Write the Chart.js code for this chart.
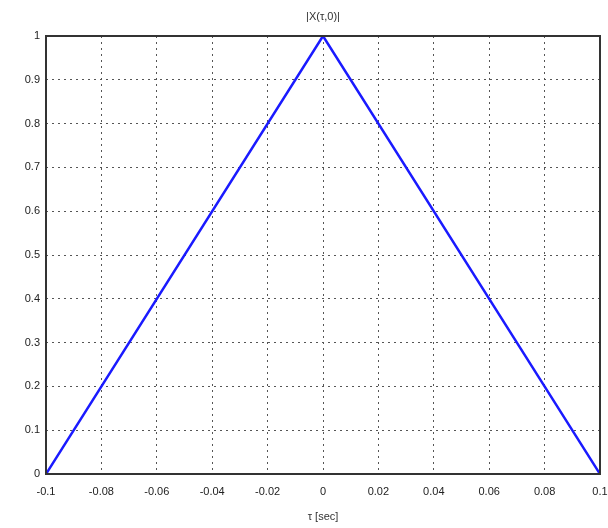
<!DOCTYPE html>
<html>
<head>
<meta charset="utf-8">
<script src="https://cdn.jsdelivr.net/npm/chart.js@4"></script>
<style>
  html, body { margin: 0; padding: 0; background: #fff; }
  #wrap { width: 608px; height: 528px; }
</style>
</head>
<body>
<div id="wrap"><canvas id="grafico" width="608" height="528"></canvas></div>
<script>
const tau = [-0.1, 0, 0.1];
const amb = [0, 1, 0];
const xTicks = [-0.1, -0.08, -0.06, -0.04, -0.02, 0, 0.02, 0.04, 0.06, 0.08, 0.1];
const yTicks = [0, 0.1, 0.2, 0.3, 0.4, 0.5, 0.6, 0.7, 0.8, 0.9, 1];
const titulo = "|X(\u03c4,0)|";

Chart.defaults.font.family = "'Liberation Sans', Arial, sans-serif";
Chart.defaults.font.size = 11;
Chart.defaults.color = "#222";

// moldura da área do gráfico + título centrado nos eixos (estilo matlab)
const moldura = {
  id: "moldura",
  afterDatasetsDraw(chart) {
    const { ctx, chartArea: a } = chart;
    ctx.save();
    ctx.strokeStyle = "#333";
    ctx.lineWidth = 2;
    ctx.strokeRect(a.left, a.top, a.right - a.left, a.bottom - a.top);
    ctx.fillStyle = "#333";
    ctx.font = "11px 'Liberation Sans', Arial, sans-serif";
    ctx.textAlign = "center";
    ctx.textBaseline = "middle";
    ctx.fillText(titulo, (a.left + a.right) / 2, a.top - 19);
    ctx.restore();
  }
};

const fmt = v => String(parseFloat(v.toFixed(2)));

new Chart(document.getElementById("grafico"), {
  type: "line",
  data: {
    datasets: [{
      data: tau.map((t, i) => ({ x: t, y: amb[i] })),
      borderColor: "#1a1aff",
      borderWidth: 2.5,
      pointRadius: 0,
      tension: 0
    }]
  },
  options: {
    responsive: false,
    animation: false,
    layout: { padding: { left: 0, right: 8, top: 36, bottom: 0 } },
    plugins: {
      legend: { display: false },
      tooltip: { enabled: false },
      title: { display: false }
    },
    scales: {
      x: {
        type: "linear",
        min: -0.1,
        max: 0.1,
        afterBuildTicks: s => { s.ticks = xTicks.map(v => ({ value: v })); },
        afterFit: s => { s.height = 54; s.paddingLeft = 0; s.paddingRight = 0; s.paddingTop = 0; },
        ticks: { callback: fmt, padding: 11, maxRotation: 0, autoSkip: false },
        grid: { color: "#555", lineWidth: 1, drawTicks: false },
        border: { display: false, dash: [2, 4] },
        title: { display: true, text: "\u03c4 [sec]", padding: { top: 6, bottom: 4 }, color: "#333" }
      },
      y: {
        min: 0,
        max: 1,
        afterBuildTicks: s => { s.ticks = yTicks.map(v => ({ value: v })); },
        afterFit: s => { s.width = 46; s.paddingTop = 0; s.paddingBottom = 0; },
        ticks: { callback: fmt, padding: 6, autoSkip: false },
        grid: { color: "#555", lineWidth: 1, drawTicks: false },
        border: { display: false, dash: [2, 4] }
      }
    }
  },
  plugins: [moldura]
});
</script>
</body>
</html>
